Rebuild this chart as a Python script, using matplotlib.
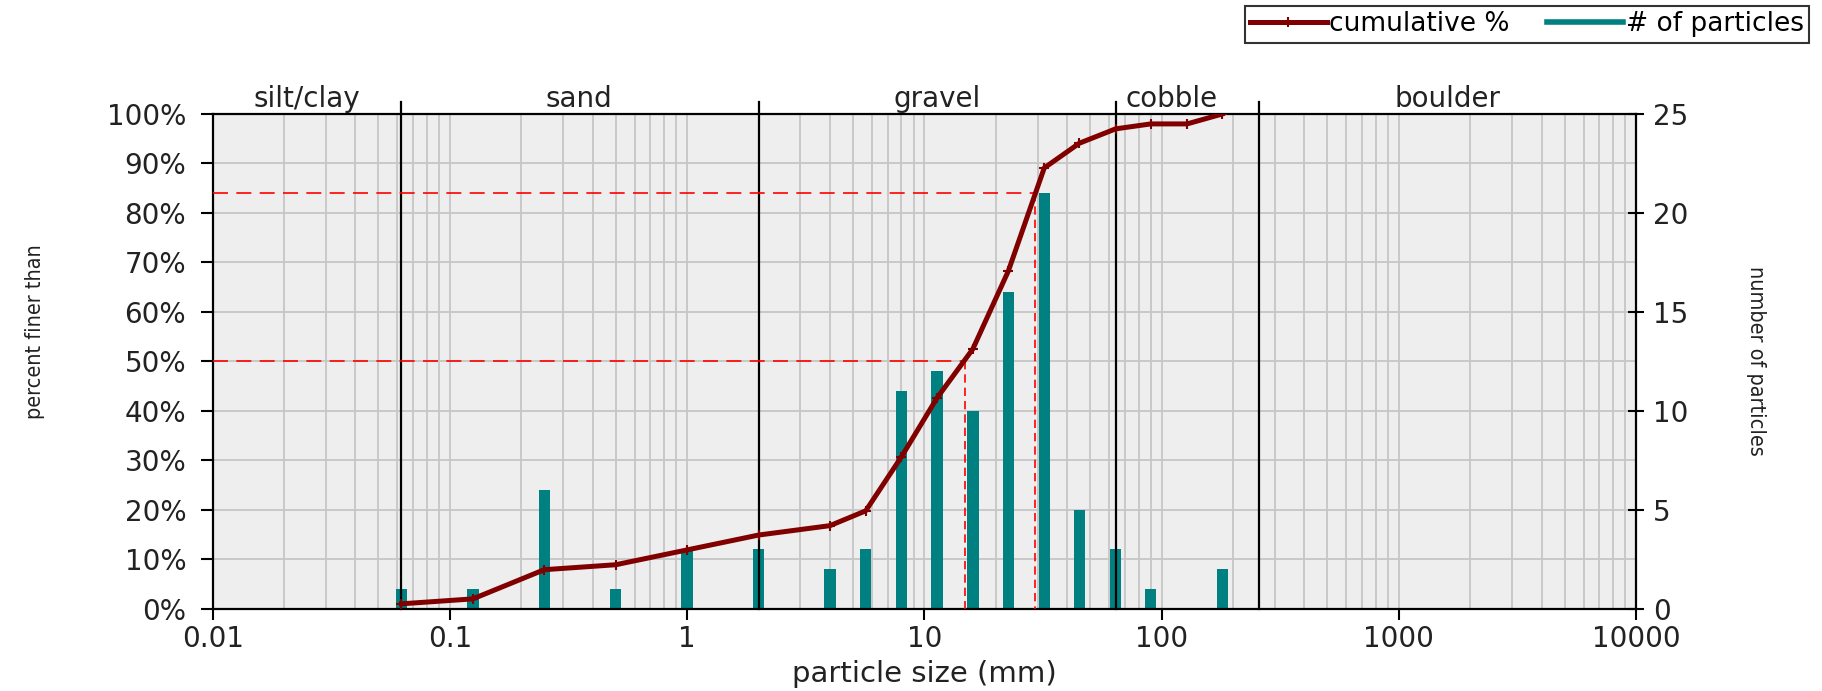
import numpy as np
import matplotlib
matplotlib.use('Agg')
import matplotlib.pyplot as plt
from matplotlib.ticker import LogLocator, MultipleLocator, NullFormatter, FuncFormatter
from matplotlib.lines import Line2D

# sieve sizes (mm), particle counts per size, cumulative percent finer
sizes = [0.0625, 0.125, 0.25, 0.5, 1, 2, 4, 5.66, 8, 11.3, 16, 22.6, 32, 45, 64, 90, 128, 180]
counts = [1, 1, 6, 1, 3, 3, 2, 3, 11, 12, 10, 16, 21, 5, 3, 1, 0, 2]
cumulative = [1.0, 2.0, 7.9, 8.9, 11.9, 14.9, 16.8, 19.8, 30.7, 42.6, 52.5, 68.3,
              89.1, 94.1, 97.0, 98.0, 98.0, 100.0]

# size classes
class_bounds = [0.0625, 2, 64, 256]
class_names = ['silt/clay', 'sand', 'gravel', 'cobble', 'boulder']
class_label_x = [0.025, 0.35, 11.3, 110, 1600]

# D50 / D84
d50, d84 = 14.8, 29.3

x_ticks = [0.01, 0.1, 1, 10, 100, 1000, 10000]
x_labels = ['0.01', '0.1', '1', '10', '100', '1000', '10000']

line_red = '#800000'
teal = '#008080'

plt.rcParams['font.family'] = ['DejaVu Sans']
narrow = ['Liberation Sans Narrow', 'DejaVu Sans']

fig = plt.figure(figsize=(18.22, 6.91), dpi=100)
ax = fig.add_axes([0.1167, 0.119, 0.7813, 0.716])
ax2 = ax.twinx()

# ax2 (bars, grid, background) behind, ax (curve) on top
ax.set_zorder(2)
ax2.set_zorder(1)
ax.patch.set_visible(False)
ax2.patch.set_visible(True)
ax2.patch.set_facecolor('#EEEEEE')
ax2.xaxis.set_visible(True)

ax.set_xscale('log')
ax.set_xlim(0.01, 10000)
ax.set_ylim(0, 100)
ax2.set_ylim(0, 25)

ax.xaxis.set_major_locator(LogLocator(base=10, numticks=20))
ax.xaxis.set_minor_locator(LogLocator(base=10, subs=np.arange(2, 10), numticks=100))
ax.xaxis.set_minor_formatter(NullFormatter())
ax.set_xticks(x_ticks)
ax.set_xticklabels(x_labels)

ax.yaxis.set_major_locator(MultipleLocator(10))
ax.yaxis.set_major_formatter(FuncFormatter(lambda v, p: f'{v:.0f}%'))
ax2.yaxis.set_major_locator(MultipleLocator(5))
ax2.yaxis.set_minor_locator(MultipleLocator(2.5))

grid_kw = dict(color='#C6C6C6', lw=1.3)
ax2.grid(True, which='both', axis='x', **grid_kw)
ax2.grid(True, which='both', axis='y', **grid_kw)
ax.grid(False)

# particle counts
sizes_arr = np.array(sizes)
hw = 0.024
ax2.bar(sizes_arr * 10 ** -hw, counts, width=sizes_arr * (10 ** hw - 10 ** -hw),
        align='edge', color=teal, zorder=3)

# class boundaries and names
trans = ax.get_xaxis_transform()
for b in class_bounds:
    ax.plot([b, b], [0, 1.025], transform=trans, color='black', lw=1.6, clip_on=False, zorder=3)
for name, xc in zip(class_names, class_label_x):
    ax.text(xc, 1.03, name, transform=trans, ha='center', va='center', fontsize=20, color='#222222')

# D50 / D84 guides
ax.plot([0.01, d84], [84, 84], color='red', lw=1.2, dashes=(9, 5), zorder=3)
ax.plot([d84, d84], [84, 0], color='red', lw=1.2, dashes=(5, 3), zorder=3)
ax.plot([0.01, d50], [50, 50], color='red', lw=1.2, dashes=(9, 5), zorder=3)
ax.plot([d50, d50], [50, 0], color='red', lw=1.2, dashes=(5, 3), zorder=3)

# cumulative curve
ax.plot(sizes, cumulative, color=line_red, lw=3.6, marker='+', ms=7, mew=1.5, zorder=4)

for s in ax.spines.values():
    s.set_color('black')
    s.set_linewidth(1.6)
for s in ax2.spines.values():
    s.set_visible(False)

ax.tick_params(axis='y', direction='out', length=9, width=1.5, pad=10, labelsize=20,
               colors='black', labelcolor='#222222')
ax.tick_params(axis='x', which='major', direction='out', length=8, width=1.5, pad=4, labelsize=20,
               colors='black', labelcolor='#222222')
ax.tick_params(axis='x', which='minor', length=0)
ax2.tick_params(axis='x', which='both', length=0, labelbottom=False, labeltop=False)
ax2.tick_params(axis='y', which='major', direction='inout', length=12, width=1.5, pad=6, labelsize=20,
                labelcolor='#222222')
ax2.tick_params(axis='y', which='minor', length=0)

ax.set_xlabel('particle size (mm)', fontsize=21, color='#222222', va='center')
ax.xaxis.set_label_coords(0.5, -0.131)
ax.set_ylabel('percent finer than', fontsize=15.5, family=narrow, stretch='condensed',
              color='#222222', va='center')
ax.yaxis.set_label_coords(-0.125, 0.56)
ax2.set_ylabel('number of particles', fontsize=15.5, family=narrow, stretch='condensed',
               rotation=270, va='center', color='#222222')
ax2.yaxis.set_label_coords(1.084, 0.5)

handles = [Line2D([], [], color=line_red, lw=3.6, marker='+', ms=7, mew=1.5),
           Line2D([], [], color=teal, lw=4)]
leg = fig.legend(handles, ['cumulative %', '# of particles'], loc='upper right',
                 bbox_to_anchor=(0.9929, 0.991), ncol=2, fontsize=19, frameon=True,
                 fancybox=False, edgecolor='black', handlelength=2.9, handletextpad=0.1,
                 columnspacing=1.4, borderpad=0.2, borderaxespad=0)
leg.get_frame().set_linewidth(1.5)

fig.savefig('out.png', dpi=100)
